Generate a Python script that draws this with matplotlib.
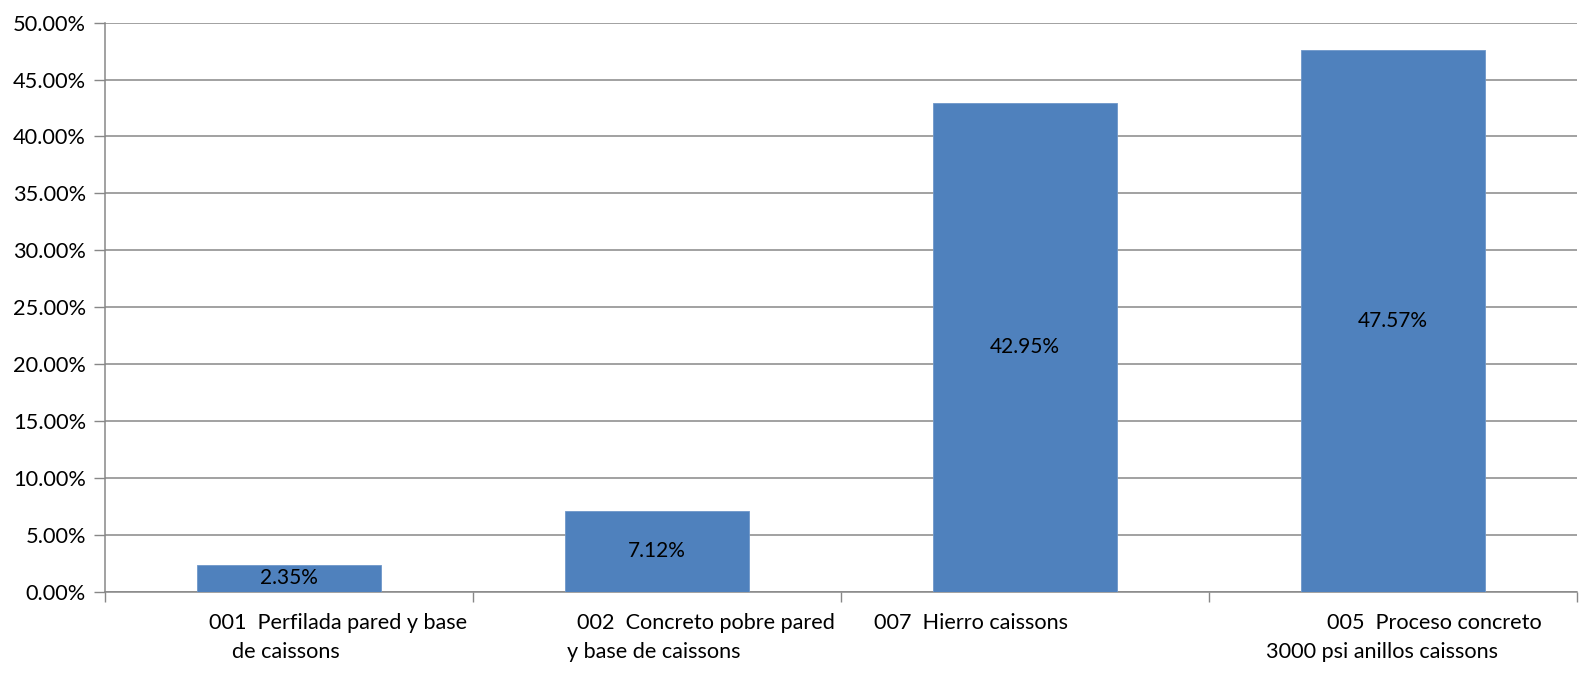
import numpy as np
import matplotlib.pyplot as plt
from matplotlib.ticker import FuncFormatter, MultipleLocator

# participation of each work item
items = ["001", "002", "007", "005"]
shares = [2.35, 7.12, 42.95, 47.57]
label_lines = [
    ["001  Perfilada pared y base", "de caissons"],
    ["002  Concreto pobre pared", "y base de caissons"],
    ["007  Hierro caissons"],
    ["005  Proceso concreto", "3000 psi anillos caissons"],
]
# horizontal shift (px) of each wrapped line from the category centre
line_shift = [[49, -3], [49, -3], [-54], [42, -11]]

plt.rcParams['font.family'] = ['Lato', 'DejaVu Sans']
grid_c = '#878787'
bar_c = '#4F81BD'

fig = plt.figure(figsize=(15.83, 6.77), dpi=100)
ax = fig.add_axes([0.0665, 0.126, 0.9295, 0.8405])

x = np.arange(len(items))
bars = ax.bar(x, shares, width=0.5, color=bar_c, edgecolor='#6f97c9', linewidth=0.6, zorder=3)
for xi, v in zip(x, shares):
    ax.text(xi, v / 2, f"{v:.2f}%", ha='center', va='center', fontsize=15, color='black', zorder=4)

ax.set_xlim(-0.5, len(items) - 0.5)
ax.set_ylim(0, 50)
ax.yaxis.set_major_locator(MultipleLocator(5))
ax.yaxis.set_major_formatter(FuncFormatter(lambda v, _: f"{v:.2f}%"))
ax.grid(axis='y', color=grid_c, linewidth=1.1, zorder=0)

ax.set_xticks([])
ax.set_xticks(np.arange(-0.5, len(items)), minor=True)
ax.tick_params(axis='x', which='minor', direction='out', length=7, width=1, color=grid_c)
ax.tick_params(axis='y', direction='out', length=8, width=1, color=grid_c, labelsize=15.7, pad=6)

for side in ['top', 'right']:
    ax.spines[side].set_visible(False)
for side in ['left', 'bottom']:
    ax.spines[side].set_color(grid_c)
    ax.spines[side].set_linewidth(1.1)

for i, (lines, shifts) in enumerate(zip(label_lines, line_shift)):
    for j, (ln, dx) in enumerate(zip(lines, shifts)):
        ax.annotate(ln, xy=(i, 0), xycoords='data', xytext=(dx, -31 - 29 * j),
                    textcoords='offset pixels', ha='center', va='center',
                    fontsize=15.6, annotation_clip=False)

fig.savefig('out.png', dpi=100)
